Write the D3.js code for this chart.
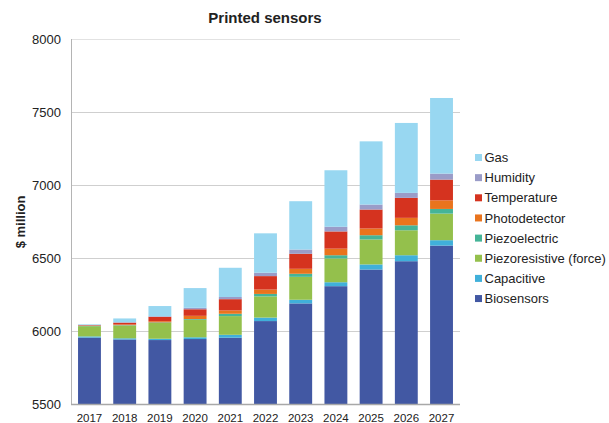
<!DOCTYPE html>
<html>
<head>
<meta charset="utf-8">
<script src="https://cdn.jsdelivr.net/npm/d3@7"></script>
<style>
    body { margin: 0; background: #fff; }
    svg { font-family: "Liberation Sans", Arial, sans-serif; }
</style>
</head>
<body>
<svg id="chart" width="609" height="423"></svg>
<script>
"use strict";

// data
const years = ["2017", "2018", "2019", "2020", "2021", "2022", "2023", "2024", "2025", "2026", "2027"];
const seriesNames = ["Biosensors", "Capacitive", "Piezoresistive (force)", "Piezoelectric",
    "Photodetector", "Temperature", "Humidity", "Gas"];
const biosensors = [5955, 5942, 5938, 5945, 5954, 6068, 6189, 6307, 6421, 6478, 6585];
const capacitive = [8, 8, 9, 12, 20, 24, 25, 27, 35, 41, 37];
const piezoresistive = [70, 87, 108, 120, 128, 145, 157, 163, 171, 171, 182];
const piezoelectric = [2, 3, 4, 5, 16, 17, 21, 22, 29, 34, 32];
const photodetector = [2, 5, 8, 22, 23, 30, 34, 45, 46, 51, 59];
const temperature = [3, 12, 30, 45, 77, 92, 103, 118, 130, 137, 142];
const humidity = [2, 3, 4, 10, 15, 23, 29, 32, 34, 34, 41];
const gas = [4, 26, 70, 135, 200, 270, 331, 387, 433, 479, 518];
const yTicks = [5500, 6000, 6500, 7000, 7500, 8000];

const COLORS = {
    "Biosensors": "#4258a3",
    "Capacitive": "#40b0da",
    "Piezoresistive (force)": "#94c04c",
    "Piezoelectric": "#45b497",
    "Photodetector": "#e9741d",
    "Temperature": "#d5331f",
    "Humidity": "#9a9cc8",
    "Gas": "#98d7f1"
};

const seriesValues = [biosensors, capacitive, piezoresistive, piezoelectric,
    photodetector, temperature, humidity, gas];

const rows = years.map((yr, i) => {
    const row = { year: yr };
    seriesNames.forEach((s, k) => { row[s] = seriesValues[k][i]; });
    return row;
});

const margin = { left: 71, right: 149, top: 39, bottom: 19 };
const width = 609, height = 423;
const svg = d3.select("#chart");

const x = d3.scaleBand()
    .domain(years)
    .range([margin.left, width - margin.right])
    .paddingInner(0.35)
    .paddingOuter(0.2);

const y = d3.scaleLinear()
    .domain([5500, 8000])
    .range([height - margin.bottom, margin.top]);

// gridlines
svg.append("g")
    .selectAll("line")
    .data(yTicks.slice(1))
    .join("line")
    .attr("x1", margin.left)
    .attr("x2", width - margin.right)
    .attr("y1", (d) => Math.round(y(d)) + 0.5)
    .attr("y2", (d) => Math.round(y(d)) + 0.5)
    .attr("stroke", (d) => (d === 8000 ? "#e2e2e2" : "#cfcfcf"))
    .attr("stroke-width", 1);

// stacked bars (value axis starts at 5500, bars clipped at the baseline)
const stacked = d3.stack().keys(seriesNames)(rows);
svg.append("g")
    .selectAll("g")
    .data(stacked)
    .join("g")
    .attr("fill", (d) => COLORS[d.key])
    .selectAll("rect")
    .data((d) => d)
    .join("rect")
    .attr("x", (d) => x(d.data.year))
    .attr("width", x.bandwidth())
    .attr("y", (d) => y(d[1]))
    .attr("height", (d) => y(Math.max(d[0], 5500)) - y(d[1]));

// axes lines
svg.append("line")
    .attr("x1", margin.left + 0.5).attr("x2", margin.left + 0.5)
    .attr("y1", margin.top).attr("y2", height - margin.bottom)
    .attr("stroke", "#b4b4b4");
svg.append("line")
    .attr("x1", margin.left).attr("x2", width - margin.right)
    .attr("y1", height - margin.bottom + 0.5).attr("y2", height - margin.bottom + 0.5)
    .attr("stroke", "#a8a8a8").attr("stroke-width", 1.5);

// y tick labels
svg.append("g")
    .selectAll("text")
    .data(yTicks)
    .join("text")
    .attr("x", 61)
    .attr("y", (d) => y(d))
    .attr("dy", "0.35em")
    .attr("text-anchor", "end")
    .attr("font-size", 13)
    .attr("fill", "#222")
    .text((d) => d);

// x tick labels
svg.append("g")
    .selectAll("text")
    .data(years)
    .join("text")
    .attr("x", (d) => x(d) + x.bandwidth() / 2)
    .attr("y", 418)
    .attr("dy", "0.35em")
    .attr("text-anchor", "middle")
    .attr("font-size", 11.5)
    .attr("fill", "#222")
    .text((d) => d);

// title
svg.append("text")
    .attr("x", 265)
    .attr("y", 18)
    .attr("dy", "0.35em")
    .attr("text-anchor", "middle")
    .attr("font-size", 15)
    .attr("font-weight", "bold")
    .attr("fill", "#222")
    .text("Printed sensors");

// y axis title
svg.append("text")
    .attr("transform", "translate(20,222) rotate(-90)")
    .attr("dy", "0.35em")
    .attr("text-anchor", "middle")
    .attr("font-size", 13)
    .attr("font-weight", "bold")
    .attr("fill", "#222")
    .text("$ million");

// legend, top entry is Gas
const legend = svg.append("g")
    .selectAll("g")
    .data(seriesNames.slice().reverse())
    .join("g")
    .attr("transform", (d, i) => `translate(475,${157.5 + i * 20.15})`);
legend.append("rect")
    .attr("x", 0).attr("y", -3.5)
    .attr("width", 7).attr("height", 7)
    .attr("fill", (d) => COLORS[d]);
legend.append("text")
    .attr("x", 9.5)
    .attr("dy", "0.35em")
    .attr("font-size", 13)
    .attr("fill", "#222")
    .text((d) => d);
</script>
</body>
</html>
